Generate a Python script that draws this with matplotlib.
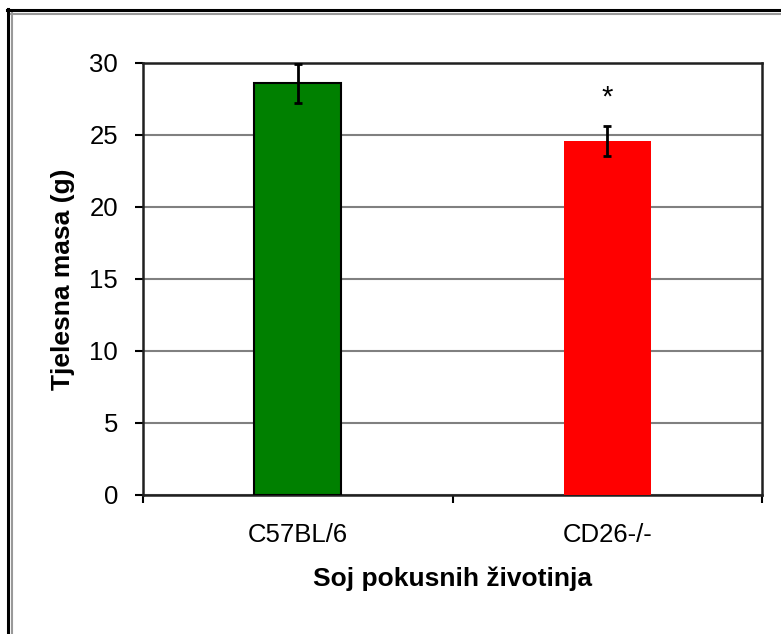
import numpy as np
from matplotlib import pyplot as plt
from matplotlib.lines import Line2D

plt.rcParams['font.family'] = ['Liberation Sans', 'DejaVu Sans']

categories = ['C57BL/6', 'CD26-/-']
masses = [28.6, 24.6]
errors = [1.35, 1.05]
bar_colors = ['#008000', '#ff0000']
edge_colors = ['black', 'none']
star_label = '*'
star_y = 27.6
y_ticks = [0, 5, 10, 15, 20, 25, 30]

W, H = 781, 634
fig = plt.figure(figsize=(W / 100, H / 100), dpi=100)
ax = fig.add_axes([143 / W, 1 - 495 / H, (762 - 143) / W, (495 - 63) / H])

x = np.arange(len(categories))
ax.bar(x, masses, width=0.28, color=bar_colors, edgecolor=edge_colors,
       linewidth=1.5, zorder=3)
ax.errorbar(x, masses, yerr=errors, fmt='none', ecolor='black',
            elinewidth=2, capsize=3, capthick=2, zorder=4, clip_on=False)
ax.text(x[1], star_y, star_label, ha='center', va='center', fontsize=21)

ax.set_xlim(-0.5, 1.5)
ax.set_ylim(0, 30)
ax.set_yticks(y_ticks)
ax.yaxis.grid(True, color='#808080', linewidth=1.5, zorder=0)
ax.set_axisbelow(True)

ax.set_xticks(x)
ax.set_xticklabels(categories, fontsize=18.5)
ax.tick_params(axis='x', which='major', length=0, pad=20)
ax.set_xticks([-0.5, 0.5, 1.5], minor=True)
ax.tick_params(axis='x', which='minor', length=6, width=1.5, direction='out')
ax.tick_params(axis='y', labelsize=18.5, length=6, width=1.5, direction='out', pad=12)

for s in ax.spines.values():
    s.set_linewidth(1.8)
    s.set_color('#202020')

ax.set_xlabel('Soj pokusnih životinja', fontsize=19, fontweight='bold', labelpad=14)
ax.set_ylabel('Tjelesna masa (g)', fontsize=19, fontweight='bold', labelpad=10)

# outer frame (left and top edges only)
fig.add_artist(Line2D([8 / W, 8 / W], [0, 1 - 9 / H], color='black', lw=2.2, transform=fig.transFigure))
fig.add_artist(Line2D([11.5 / W, 11.5 / W], [0, 1 - 13 / H], color='#999999', lw=1.5, transform=fig.transFigure))
fig.add_artist(Line2D([7 / W, 1], [1 - 10 / H, 1 - 10 / H], color='black', lw=2.2, transform=fig.transFigure))
fig.add_artist(Line2D([11 / W, 1], [1 - 14 / H, 1 - 14 / H], color='#999999', lw=1.5, transform=fig.transFigure))

fig.savefig('out.png', dpi=100)
